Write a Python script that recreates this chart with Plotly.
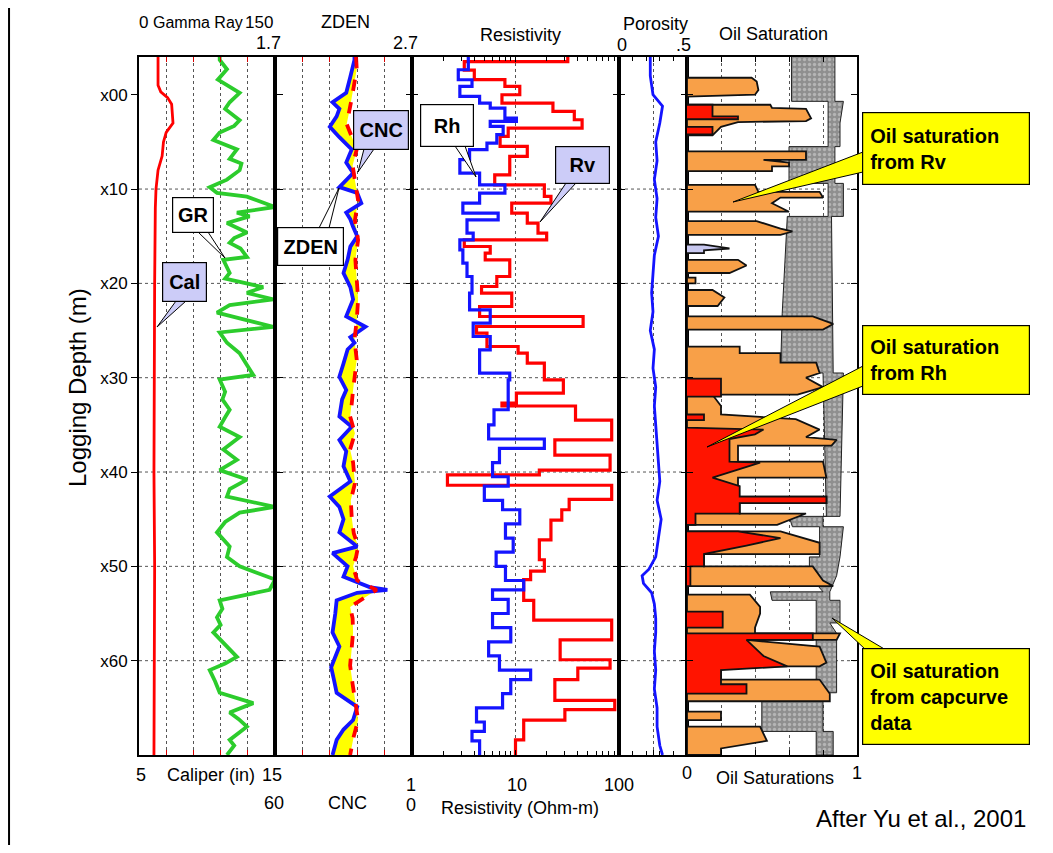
import plotly.graph_objects as go

# ---------------- data ----------------
DEPTH_TICKS = [0, 10, 20, 30, 40, 50, 60]
DEPTH_LABELS = ["x00", "x10", "x20", "x30", "x40", "x50", "x60"]
DEPTH_RANGE = [70, -4]
DEPTH_BOTTOM = 70

CAL_DEPTH = [-4.0, -1.0, -0.3, 0.3, 1.0, 3.0, 4.0, 5.0, 6.5, 8.0, 10.0, 12.0, 20.0, 30.0, 40.0, 50.0, 60.0, 70.0]
CAL_IN = [6.4, 6.4, 6.6, 7.1, 7.4, 7.5, 7.0, 6.8, 6.7, 6.4, 6.25, 6.2, 6.15, 6.1, 6.1, 6.15, 6.1, 6.1]

GR_DEPTH = [-4.0, -3.7, -2.7, -1.6, -0.2, 0.8, 1.5, 2.7, 3.3, 4.0, 4.8, 5.8, 6.8, 7.3, 8.0, 9.0, 9.8,
            10.4, 10.8, 11.9, 12.5, 12.9, 13.6, 14.6, 15.2, 15.7, 16.3, 17.2, 17.5, 18.9, 19.5, 20.4,
            21.0, 21.7, 22.3, 23.1, 24.6, 25.2, 26.3, 27.4, 28.5, 29.7, 30.2, 31.5, 32.3, 33.4, 34.2,
            35.2, 36.3, 37.6, 38.7, 39.8, 40.8, 41.8, 42.6, 43.7, 44.3, 45.3, 46.4, 47.9, 49.0, 50.0,
            51.4, 52.5, 53.6, 54.5, 55.4, 56.2, 57.0, 58.5, 59.6, 60.3, 61.0, 62.2, 63.4, 64.5, 65.5,
            66.2, 67.0, 68.4, 69.0, 70.0]
GR_API = [89, 89, 97, 87, 111, 100, 95, 111, 105, 89, 82, 108, 100, 113, 111, 97, 78,
          86, 119, 150, 108, 122, 97, 119, 105, 100, 112, 119, 93, 100, 95, 137,
          119, 148, 100, 86, 148, 89, 97, 111, 118, 126, 89, 95, 92, 100, 95,
          89, 111, 93, 108, 89, 119, 100, 97, 150, 111, 95, 86, 100, 97, 111,
          150, 144, 89, 92, 86, 90, 82, 97, 108, 95, 78, 84, 89, 126, 100,
          110, 119, 100, 105, 97]

ZDEN_DEPTH = [-4.0, -3.7, -1.9, -0.2, 0.8, 1.5, 2.3, 3.4, 4.5, 5.8, 6.5, 7.2, 8.3, 9.8, 10.4, 11.5,
              12.5, 13.2, 14.0, 15.0, 16.1, 17.5, 18.9, 20.4, 21.7, 22.5, 23.5, 24.6, 25.7, 26.3,
              27.0, 28.5, 29.9, 31.3, 32.3, 34.1, 35.2, 36.6, 37.8, 39.4, 41.0, 42.6, 43.7, 45.0,
              46.4, 47.9, 48.6, 50.0, 51.1, 52.2, 52.5, 52.8, 53.6, 55.0, 57.0, 58.5, 60.7, 62.0,
              63.4, 64.9, 66.3, 67.3, 68.4, 70.0]
ZDEN_GCC = [2.28, 2.28, 2.25, 2.22, 2.12, 2.17, 2.15, 2.10, 2.17, 2.26, 2.24, 2.22, 2.27, 2.17, 2.30, 2.33,
            2.22, 2.25, 2.27, 2.30, 2.25, 2.23, 2.20, 2.25, 2.27, 2.25, 2.22, 2.36, 2.25, 2.28,
            2.23, 2.20, 2.17, 2.22, 2.19, 2.17, 2.26, 2.17, 2.22, 2.20, 2.25, 2.10, 2.17, 2.20,
            2.17, 2.30, 2.12, 2.23, 2.20, 2.39, 2.52, 2.30, 2.15, 2.14, 2.12, 2.17, 2.11, 2.13,
            2.15, 2.30, 2.27, 2.20, 2.15, 2.12]

CNC_DEPTH = [-4.0, -2.7, 0.4, 1.8, 3.1, 5.8, 7.5, 9.1, 11.2, 13.3, 15.4, 17.5, 19.6, 21.7, 23.9, 26.0,
             28.1, 29.5, 31.3, 33.0, 34.1, 35.9, 37.6, 39.0, 41.2, 43.0, 44.8, 46.5, 47.9, 49.0,
             50.0, 51.5, 52.5, 54.3, 55.5, 57.0, 59.0, 60.5, 62.5, 64.1, 66.3, 68.0, 70.0]
CNC_PU = [24.5, 24.2, 26.4, 27.5, 28.6, 24.2, 26.0, 25.0, 23.6, 25.0, 23.6, 24.8, 24.2, 23.6, 24.2, 25.2,
          24.2, 25.0, 25.8, 26.5, 27.1, 25.0, 27.1, 25.8, 25.0, 26.8, 26.4, 25.5, 23.6, 24.5,
          25.8, 24.0, 15.5, 27.1, 26.0, 25.8, 26.5, 27.1, 26.0, 25.0, 23.6, 25.5, 27.1]

RH_TOP = [-4.0, -2.65, -1.59, -0.88, 0.18, 0.89, 1.42, 2.48, 2.83, 3.36, 4.24, 5.13, 5.83, 6.89, 8.31,
          9.55, 10.43, 11.49, 12.55, 13.26, 14.67, 15.38, 16.44, 17.85, 19.27, 21.03, 22.8, 24.22,
          25.63, 27.04, 29.52, 30.22, 33.4, 35.0, 36.5, 37.5, 39.0, 40.5, 41.5, 43.0, 44.0, 45.5,
          47.0, 48.5, 50.0, 51.5, 52.5, 53.5, 55.0, 56.5, 58.0, 59.5, 61.0, 62.0, 63.5, 65.0, 66.5,
          67.5, 68.5]
RH_OHMM = [3.5, 2.8, 3.8, 2.9, 4.5, 5.7, 7.9, 10.2, 5.7, 7.6, 6.6, 5.3, 3.6, 2.9, 4.5,
           7.9, 4.5, 3.1, 6.8, 3.4, 3.9, 2.9, 3.1, 3.4, 3.8, 3.6, 5.7, 3.9,
           5.7, 4.5, 8.8, 8.5, 6.2, 5.5, 19, 7.0, 6.0, 8.5, 5.0, 7.5, 11, 8.0,
           9.5, 6.5, 8.0, 12, 6.0, 8.5, 6.0, 9.0, 5.5, 7.0, 14, 9.0, 7.5, 4.2, 5.0,
           3.8, 4.5]

RV_TOP = [-4.0, -3.5, -2.6, -1.6, -0.88, 0.0, 0.89, 1.77, 2.65, 3.54, 4.42, 5.48, 6.54, 8.49, 9.55,
          10.78, 11.49, 12.55, 13.61, 14.67, 15.38, 16.09, 16.79, 17.5, 19.27, 20.33, 21.03, 22.45,
          23.51, 24.57, 25.28, 26.69, 27.4, 28.46, 30.22, 31.64, 32.7, 33.0, 34.5, 36.6, 38.2, 39.8,
          40.3, 41.4, 42.9, 44.0, 45.1, 47.2, 49.3, 50.5, 51.4, 53.6, 55.7, 57.8, 59.9, 60.8, 62.0,
          64.2, 65.2, 66.3, 68.4]
RV_OHMM = [32, 3.2, 4.0, 7.9, 11, 7.4, 23, 37, 44, 8.5, 7.1, 13, 8.8, 6.3, 19,
           22, 9.2, 13, 16.5, 20, 3.2, 5.7, 5.1, 8.8, 6.6, 4.7, 9.2, 4.5,
           45, 4.2, 5.3, 10.6, 13, 19, 29, 10.2, 7.4, 38, 85, 24, 82, 17,
           2.2, 85, 33, 28, 22, 17, 19, 14, 12, 15, 85, 27, 82, 40, 24,
           91, 30, 12, 10]

POR_DEPTH = [-4.0, -2.0, 0.0, 1.2, 3.0, 5.0, 7.0, 9.0, 11.0, 13.0, 15.0, 17.0, 19.0, 21.0, 23.0, 25.0,
             27.0, 29.0, 31.0, 33.0, 35.0, 37.0, 39.0, 41.0, 43.0, 45.0, 47.0, 49.0, 50.3, 51.0,
             51.8, 52.8, 54.0, 55.5, 57.0, 59.0, 61.0, 63.0, 65.0, 67.0, 69.0, 70.0]
POR_FRAC = [0.23, 0.23, 0.25, 0.32, 0.30, 0.27, 0.28, 0.26, 0.28, 0.27, 0.29, 0.26, 0.25, 0.24, 0.25, 0.23,
            0.26, 0.25, 0.27, 0.26, 0.27, 0.28, 0.29, 0.30, 0.28, 0.31, 0.29, 0.27, 0.22, 0.17,
            0.18, 0.24, 0.26, 0.27, 0.27, 0.26, 0.27, 0.26, 0.28, 0.28, 0.30, 0.32]

# oil saturation from Rv (orange), as (depth, saturation) outline points
SV_PROFILE = [(-4.0, 0), (-1.8, 0), (-1.8, 0.38), (-1.4, 0.41), (-0.5, 0.42), (0.0, 0.40), (0.2, 0.0),
              (1.06, 0), (1.06, 0.49), (1.4, 0.50), (1.5, 0.70), (2.5, 0.73), (2.8, 0.70), (2.9, 0.30),
              (3.4, 0.20), (4.3, 0.15), (4.3, 0),
              (6.0, 0), (6.0, 0.70), (6.9, 0.70), (6.9, 0.45), (7.2, 0.60), (7.6, 0.60), (7.6, 0.50),
              (8.1, 0.50), (8.1, 0),
              (9.55, 0), (9.55, 0.40), (10.3, 0.42), (10.3, 0.78), (10.9, 0.80), (10.9, 0.55),
              (11.5, 0.50), (12.4, 0.60), (12.4, 0),
              (13.4, 0), (13.4, 0.41), (14.2, 0.55), (14.5, 0.62), (14.85, 0.55), (14.85, 0),
              (17.5, 0), (17.5, 0.30), (18.1, 0.35), (18.9, 0.25), (18.9, 0),
              (19.4, 0), (19.4, 0.05), (20.0, 0.05), (20.0, 0),
              (20.7, 0), (20.7, 0.15), (21.5, 0.22), (22.4, 0.18), (22.4, 0),
              (23.5, 0), (23.5, 0.74), (24.3, 0.86), (24.9, 0.80), (24.9, 0),
              (26.7, 0), (26.7, 0.31), (27.4, 0.31), (27.4, 0.55), (28.4, 0.55), (28.4, 0.76),
              (29.5, 0.78), (30.0, 0.70), (31.0, 0.80), (31.8, 0.65), (31.8, 0.15), (33.0, 0.20),
              (33.9, 0.20), (34.4, 0.64), (35.5, 0.78), (36.3, 0.70), (36.6, 0.88), (37.2, 0.85),
              (37.2, 0.30), (38.9, 0.30), (38.9, 0.80), (40.6, 0.82), (40.6, 0.30), (42.6, 0.30),
              (42.6, 0.82), (43.3, 0.82), (43.3, 0.31), (44.4, 0.31), (44.4, 0.70), (45.6, 0.53),
              (45.6, 0),
              (46.3, 0), (46.3, 0.55), (47.5, 0.78), (48.7, 0.78), (48.7, 0.10), (50.0, 0.10),
              (50.0, 0.74), (51.5, 0.80), (52.1, 0.86), (52.1, 0),
              (53.0, 0), (53.0, 0.37), (54.3, 0.43), (55.0, 0.43), (56.5, 0.40), (57.1, 0.40),
              (57.1, 0.90), (57.8, 0.88), (57.8, 0.35), (58.5, 0.78), (60.2, 0.82), (60.6, 0.78),
              (60.6, 0.20), (62.0, 0.20), (62.0, 0.78), (63.5, 0.84), (64.3, 0.84), (64.3, 0),
              (65.4, 0), (65.4, 0.20), (66.3, 0.20), (66.3, 0),
              (67.0, 0), (67.0, 0.43), (68.5, 0.47), (69.3, 0.20), (70.0, 0.20), (70.0, 0)]

# oil saturation from Rh (red)
SH_PROFILE = [(-4.0, 0), (1.06, 0), (1.06, 0.15), (2.3, 0.15), (2.3, 0.30), (2.6, 0.30), (2.6, 0),
              (3.4, 0), (3.4, 0.15), (4.2, 0.15), (4.2, 0),
              (30.1, 0), (30.1, 0.20), (32.0, 0.20), (32.0, 0),
              (33.9, 0), (33.9, 0.10), (34.5, 0.10), (34.5, 0),
              (35.3, 0), (35.5, 0.45), (36.0, 0.40), (36.5, 0.25), (38.9, 0.25), (39.0, 0.43),
              (40.6, 0.15), (41.5, 0.31), (42.6, 0.31), (42.6, 0.82), (43.3, 0.82), (43.3, 0.31),
              (44.4, 0.31), (44.4, 0.05), (45.6, 0.05), (45.6, 0),
              (46.3, 0), (46.3, 0.30), (47.0, 0.55), (47.8, 0.35), (48.7, 0.10), (50.0, 0.10),
              (50.0, 0.02), (52.1, 0.02), (52.1, 0),
              (54.8, 0), (54.8, 0.21), (56.5, 0.21), (56.5, 0),
              (57.1, 0), (57.1, 0.74), (57.8, 0.74), (57.8, 0.35), (59.5, 0.45), (60.6, 0.59),
              (61.0, 0.20), (62.5, 0.20), (62.5, 0.35), (63.5, 0.35), (63.5, 0), (70.0, 0)]

# small light-blue patch
SL_PROFILE = [(15.9, 0), (15.9, 0.10), (16.3, 0.25), (16.5, 0.10), (16.8, 0.10), (16.8, 0)]

# oil saturation from capillary-curve data (grey band: left and right edges)
CAP_LEFT = [(-4.0, 0.615), (0.7, 0.615), (0.7, 0.83), (5.5, 0.83), (5.5, 0.60), (9.4, 0.60),
            (9.4, 0.83), (12.9, 0.83), (12.9, 0.59), (23.2, 0.56), (29.5, 0.55), (29.5, 0.80),
            (44.7, 0.82), (44.7, 0.60), (45.8, 0.62), (45.8, 0.78), (49.0, 0.78), (49.0, 0.72),
            (51.0, 0.72), (52.7, 0.80), (52.7, 0.49), (53.6, 0.50), (53.6, 0.76), (63.4, 0.76),
            (63.4, 0.44), (67.5, 0.44), (67.5, 0.76), (70.0, 0.76)]
CAP_RIGHT = [(-4.0, 0.87), (0.7, 0.87), (0.7, 0.92), (3.0, 0.90), (5.5, 0.90), (5.5, 0.87),
             (9.4, 0.87), (9.4, 0.92), (12.9, 0.92), (12.9, 0.85), (29.5, 0.86), (29.5, 0.92),
             (44.7, 0.90), (44.7, 0.80), (45.8, 0.80), (45.8, 0.92), (49.0, 0.90), (51.0, 0.88),
             (52.7, 0.84), (53.6, 0.84), (53.6, 0.90), (56.0, 0.90), (56.0, 0.84), (57.1, 0.88),
             (63.4, 0.88), (63.4, 0.80), (67.5, 0.80), (67.5, 0.86), (70.0, 0.86)]

# axis scales
CAL_RANGE = [5, 15]
GR_RANGE = [0, 150]
ZDEN_RANGE = [1.7, 2.7]
CNC_RANGE = [60, 0]
RES_LOG_RANGE = [0, 2]
POR_RANGE = [0, 0.5]
SAT_RANGE = [0, 1]

# ---------------- layout helpers ----------------
# the page body has an 8 px margin, so the figure is 16 px smaller and offset by 8 px
OFF = 8
W, H = 1053 - 2 * OFF, 853 - 2 * OFF
def px(x): return (x - OFF) / W
def py(y): return 1 - (y - OFF) / H

TRACK_PX = [(139, 275), (275, 412), (412, 619), (619, 687), (687, 857)]
Y_TOP, Y_BOT = 57, 755
YDOM = [py(Y_BOT), py(Y_TOP)]

FONT = "Liberation Sans, Arial, sans-serif"

def unzip(pairs):
    return [p[1] for p in pairs], [p[0] for p in pairs]

def steps(tops, vals, bottom):
    xs, ys = [], []
    for i, v in enumerate(vals):
        d1 = tops[i + 1] if i + 1 < len(tops) else bottom
        xs += [v, v]
        ys += [tops[i], d1]
    return xs, ys

fig = go.Figure()
NOHOVER = dict(hoverinfo="skip", showlegend=False)

# Track 1: caliper + gamma ray
fig.add_trace(go.Scatter(x=CAL_IN, y=CAL_DEPTH, xaxis="x", yaxis="y", mode="lines",
                         line=dict(color="#ff0000", width=2.8), **NOHOVER))
fig.add_trace(go.Scatter(x=GR_API, y=GR_DEPTH, xaxis="x6", yaxis="y", mode="lines",
                         line=dict(color="#2ccc2c", width=3.8), **NOHOVER))

# Track 2: ZDEN / CNC crossover
z0, z1 = ZDEN_RANGE
cnc_as_zden = [z0 + (CNC_RANGE[0] - c) / (CNC_RANGE[0] - CNC_RANGE[1]) * (z1 - z0) for c in CNC_PU]
fig.add_trace(go.Scatter(x=ZDEN_GCC + cnc_as_zden[::-1], y=ZDEN_DEPTH + CNC_DEPTH[::-1],
                         xaxis="x2", yaxis="y2", mode="lines", fill="toself",
                         fillcolor="#ffff00", line=dict(width=0), **NOHOVER))
fig.add_trace(go.Scatter(x=ZDEN_GCC, y=ZDEN_DEPTH, xaxis="x2", yaxis="y2", mode="lines",
                         line=dict(color="#1414ff", width=3.8), **NOHOVER))
fig.add_trace(go.Scatter(x=CNC_PU, y=CNC_DEPTH, xaxis="x7", yaxis="y2", mode="lines",
                         line=dict(color="#ff0000", width=3.8, dash="dash"), **NOHOVER))

# Track 3: resistivity
rvx, rvy = steps(RV_TOP, RV_OHMM, DEPTH_BOTTOM)
rhx, rhy = steps(RH_TOP, RH_OHMM, DEPTH_BOTTOM)
fig.add_trace(go.Scatter(x=rvx, y=rvy, xaxis="x3", yaxis="y3", mode="lines",
                         line=dict(color="#ff0000", width=3.2), **NOHOVER))
fig.add_trace(go.Scatter(x=rhx, y=rhy, xaxis="x3", yaxis="y3", mode="lines",
                         line=dict(color="#1414ff", width=3.2), **NOHOVER))

# Track 4: porosity
fig.add_trace(go.Scatter(x=POR_FRAC, y=POR_DEPTH, xaxis="x4", yaxis="y4", mode="lines",
                         line=dict(color="#1414ff", width=2.8), **NOHOVER))

# Track 5: saturations
lx, ly = unzip(CAP_LEFT)
rx, ry = unzip(CAP_RIGHT)
fig.add_trace(go.Scatter(x=rx + lx[::-1], y=ry + ly[::-1], xaxis="x5", yaxis="y5", mode="lines",
                         fill="toself", fillcolor="#8f8f8f",
                         fillpattern=dict(shape=".", bgcolor="#8f8f8f", fgcolor="#dcdcdc",
                                          size=5, solidity=0.35),
                         line=dict(color="#222222", width=1), **NOHOVER))
for prof, col in [(SV_PROFILE, "#f8a048"), (SH_PROFILE, "#ff1400"), (SL_PROFILE, "#c8c8f0")]:
    sx, sy = unzip(prof)
    fig.add_trace(go.Scatter(x=sx, y=sy, xaxis="x5", yaxis="y5", mode="lines", fill="toself",
                             fillcolor=col, line=dict(color="#111111", width=1.8), **NOHOVER))

# ---------------- axes ----------------
def xax(i, rng, **kw):
    d = dict(domain=[px(TRACK_PX[i][0]), px(TRACK_PX[i][1])], range=rng, anchor="y" if i == 0 else f"y{i+1}",
             showline=True, linecolor="black", linewidth=2, mirror="ticks", ticks="inside",
             ticklen=5, tickcolor="black", showticklabels=False, showgrid=True,
             gridcolor="#555555", griddash="dot", gridwidth=1, zeroline=False, fixedrange=True)
    d.update(kw)
    return d

def yax(i, **kw):
    d = dict(domain=YDOM, range=DEPTH_RANGE, autorange=False, anchor="x" if i == 0 else f"x{i+1}",
             tickvals=DEPTH_TICKS, ticktext=DEPTH_LABELS, showline=True, linecolor="black",
             linewidth=2, mirror="ticks", showgrid=False, zeroline=False, fixedrange=True,
             tickcolor="black", ticklen=6)
    d.update(kw)
    return d

layout_axes = dict(
    xaxis=xax(0, CAL_RANGE, tickvals=[7, 9, 11, 13], tickcolor="#dd0000"),
    xaxis2=xax(1, ZDEN_RANGE, tickvals=[1.9, 2.1, 2.3, 2.5], tickcolor="#dd0000"),
    xaxis3=xax(2, RES_LOG_RANGE, type="log", tickvals=[10],
               minor=dict(tickvals=[2, 3, 4, 5, 6, 7, 8, 9, 20, 30, 40, 50, 60, 70, 80, 90],
                          ticks="inside", ticklen=4, tickcolor="black", showgrid=False)),
    xaxis4=xax(3, POR_RANGE, tickvals=[0.25],
               minor=dict(tickvals=[0.1, 0.2, 0.3, 0.4], ticks="inside", ticklen=4,
                          tickcolor="black", showgrid=False)),
    xaxis5=xax(4, SAT_RANGE, tickvals=[0.2, 0.4, 0.6, 0.8]),
    xaxis6=dict(overlaying="x", anchor="y", range=GR_RANGE, visible=False, fixedrange=True,
                domain=[px(TRACK_PX[0][0]), px(TRACK_PX[0][1])]),
    xaxis7=dict(overlaying="x2", anchor="y2", range=CNC_RANGE, visible=False, fixedrange=True,
                domain=[px(TRACK_PX[1][0]), px(TRACK_PX[1][1])]),
    yaxis=yax(0, ticks="outside", tickfont=dict(family=FONT, size=17, color="black")),
)
for i in range(1, 5):
    layout_axes[f"yaxis{i+1}"] = yax(i, ticks="inside", showticklabels=False, matches="y")

# ---------------- shapes ----------------
shapes = [dict(type="line", xref="paper", yref="paper", x0=0.001, x1=0.001, y0=0, y1=1,
               line=dict(color="black", width=2), layer="below")]
for d in DEPTH_TICKS[1:]:
    shapes.append(dict(type="line", xref="paper", yref="y", x0=px(TRACK_PX[0][0]), x1=px(TRACK_PX[-1][1]),
                       y0=d, y1=d, line=dict(color="#555555", width=1, dash="dot"), layer="below"))

def tail(a, b, tip, color):
    path = "M {},{} L {},{} L {},{} Z".format(px(a[0]), py(a[1]), px(b[0]), py(b[1]), px(tip[0]), py(tip[1]))
    return dict(type="path", xref="paper", yref="paper", path=path, fillcolor=color,
                line=dict(color="black", width=1), layer="above")

LAV = "#ccccf8"
YEL = "#ffff00"
shapes += [
    tail((198, 232), (208, 232), (225, 258), "white"),
    tail((176, 301), (186, 301), (157, 327), LAV),
    tail((319, 228), (329, 228), (339, 188), "white"),
    tail((364, 149), (374, 149), (358, 172), LAV),
    tail((455, 146), (465, 146), (476, 177), "white"),
    tail((566, 183), (576, 183), (540, 222), LAV),
    tail((863, 152), (863, 172), (733, 202), YEL),
    tail((863, 366), (863, 386), (707, 447), YEL),
    tail((866, 650), (886, 650), (832, 618), YEL),
]

# ---------------- annotations ----------------
ann = []
def label(text, x, y, size=18, family=FONT, **kw):
    ann.append(dict(text=text, x=px(x), y=py(y), xref="paper", yref="paper", showarrow=False,
                    font=dict(family=family, size=size, color="black"), xanchor="center",
                    yanchor="middle", **kw))

for t, x, y, s in [("0", 143, 22, 17), ("Gamma Ray", 198, 22, 16), ("150", 259, 22, 17),
                   ("ZDEN", 345, 22, 18), ("1.7", 268, 43, 18), ("2.7", 405, 43, 18),
                   ("Resistivity", 520, 35, 18), ("Porosity", 655, 24, 18), ("0", 622, 45, 18),
                   (".5", 683, 45, 18), ("Oil Saturation", 773, 34, 18),
                   ("5", 141, 775, 18), ("Caliper (in)", 211, 775, 18), ("15", 272, 775, 18),
                   ("60", 274, 803, 18), ("CNC", 347, 803, 18), ("1", 411, 785, 18),
                   ("0", 411, 805, 18), ("10", 517, 785, 18), ("100", 619, 785, 18),
                   ("Resistivity (Ohm-m)", 520, 808, 18), ("0", 687, 773, 18),
                   ("Oil Saturations", 775, 778, 18), ("1", 857, 773, 18)]:
    label(t, x, y, size=s)

label("Logging Depth (m)", 78, 388, size=24, textangle=-90)
label("After Yu et al., 2001", 921, 818, size=24)

def box(text, x0, x1, y0, y1, color, size=20, align="center", pad=1):
    ann.append(dict(text=text, x=px((x0 + x1) / 2), y=py((y0 + y1) / 2), xref="paper", yref="paper",
                    showarrow=False, xanchor="center", yanchor="middle", align=align,
                    width=x1 - x0 - 2 * pad - 2, height=y1 - y0 - 2 * pad - 2, borderpad=pad,
                    bgcolor=color, bordercolor="black", borderwidth=1.2,
                    font=dict(family=FONT, size=size, color="black")))

box("<b>GR</b>", 172, 214, 197, 233, "white")
box("<b>Cal</b>", 162, 207, 262, 302, LAV)
box("<b>ZDEN</b>", 277, 344, 227, 266, "white")
box("<b>CNC</b>", 353, 409, 110, 150, LAV)
box("<b>Rh</b>", 420, 474, 104, 147, "white")
box("<b>Rv</b>", 555, 610, 146, 184, LAV)
box("<b>Oil saturation<br>from Rv</b>", 862, 1030, 112, 185, YEL, size=20, align="left", pad=7)
box("<b>Oil saturation<br>from Rh</b>", 862, 1030, 325, 395, YEL, size=20, align="left", pad=7)
box("<b>Oil saturation<br>from capcurve<br>data</b>", 862, 1030, 648, 745, YEL, size=20, align="left", pad=7)

fig.update_layout(
    width=W, height=H, margin=dict(l=0, r=0, t=0, b=0),
    paper_bgcolor="white", plot_bgcolor="rgba(0,0,0,0)",
    showlegend=False, shapes=shapes, annotations=ann, **layout_axes,
)

fig.write_html("out.html")
